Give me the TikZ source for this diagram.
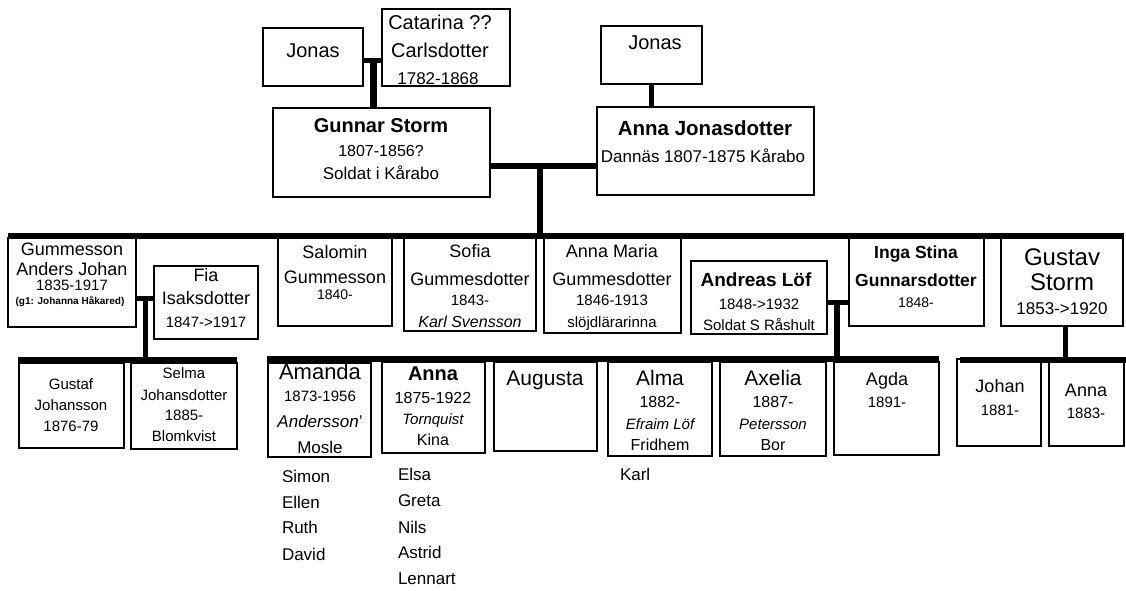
\documentclass[tikz,border=0pt]{standalone}
\usepackage{fontspec}
\setmainfont{Liberation Sans}
\usetikzlibrary{fit}
\newcommand\fsz[1]{\fontsize{#1}{#1}\selectfont}
\tikzset{
 box/.style={draw, line width=1.3pt, inner sep=0pt, outer sep=0pt, rectangle},
 conn/.style={line width=5pt},
 bar/.style={line width=6.5pt},
 tx/.style={anchor=base, inner sep=0pt, outer sep=0pt},
 lst/.style={anchor=base west, inner sep=0pt, outer sep=0pt}
}
\newcommand\pbox[3]{\node[box, fit={#2 #3}] (#1) {};}
\newcommand\ttx[4]{\node[tx] at (#1,#2) {\fsz{#3}#4};}
\newcommand\ltx[3]{\node[lst] at (#1,#2) {\fsz{17}#3};}
\begin{document}
\begin{tikzpicture}[x=1pt,y=-1pt]
\fill[white] (0,0) rectangle (1126,590);
\useasboundingbox (0,0) rectangle (1126,590);
% ---------- boxes ----------
\pbox{jonasA}{(263,28)}{(363,86)}
\pbox{catarina}{(382,9)}{(510,86)}
\draw[line width=2.5pt] (catarina.north west) -- (catarina.north east);
\pbox{gunnar}{(273,108)}{(490,197)}
\pbox{jonasB}{(601,26)}{(702,84)}
\pbox{annaJ}{(597,107)}{(814,195)}
\pbox{gummesson}{(8,238)}{(136,327)}
\pbox{fia}{(154,266)}{(258,339)}
\pbox{salomin}{(278,238)}{(392,326)}
\pbox{sofia}{(404,238)}{(536,331)}
\pbox{annaM}{(544,238)}{(681,333)}
\pbox{andreas}{(691,261)}{(827,334)}
\pbox{inga}{(849,238)}{(984,326)}
\pbox{gustav}{(1001,238)}{(1123,326)}
\pbox{gustaf}{(19,363)}{(124,448)}
\pbox{selma}{(131,363)}{(237,449)}
\pbox{amanda}{(268,363)}{(371,457)}
\pbox{annaT}{(382,362)}{(485,453)}
\pbox{augusta}{(494,362)}{(597,451)}
\pbox{alma}{(608,362)}{(712,456)}
\pbox{axelia}{(720,362)}{(826,456)}
\pbox{agda}{(834,362)}{(939,455)}
\pbox{johan}{(957,359)}{(1041,446)}
\pbox{annaG}{(1049,362)}{(1124,446)}
% ---------- connectors ----------
\coordinate (m1) at (373,60);
\draw[conn] (jonasA.east |- m1) -- (catarina.west |- m1);
\draw[conn, line width=7pt] (m1) -- (m1 |- gunnar.north);
\draw[conn] (jonasB.south) -- (jonasB.south |- annaJ.north);
\coordinate (m2) at (540,166);
\draw[conn, line width=6pt] (gunnar.east |- m2) -- (annaJ.west |- m2);
\coordinate (sb1) at (8,236);
\coordinate (sb2) at (1124,236);
\draw[conn, line width=6pt] (m2) -- (m2 |- sb1);
\draw[bar] (sb1) -- (sb2);
\coordinate (m3) at (145,298);
\coordinate (cb1) at (18,360);
\coordinate (cb2) at (237,360);
\draw[conn] (gummesson.east |- m3) -- (fia.west |- m3);
\draw[conn] (m3) -- (m3 |- cb1);
\draw[bar] (cb1) -- (cb2);
\coordinate (m4) at (837,302);
\coordinate (cb3) at (267,359);
\coordinate (cb4) at (939,359);
\draw[conn] (andreas.east |- m4) -- (inga.west |- m4);
\draw[conn, line width=6pt] (m4) -- (m4 |- cb3);
\draw[bar] (cb3) -- (cb4);
\coordinate (m5) at (1065,360);
\coordinate (cb5) at (960,360);
\coordinate (cb6) at (1126,360);
\draw[conn] (gustav.south -| m5) -- (m5);
\draw[bar] (cb5) -- (cb6);
% ---------- texts ----------
\ttx{313}{57}{20}{Jonas}
\ttx{440}{29}{20}{Catarina ??}
\ttx{440}{57}{20}{Carlsdotter}
\ttx{438}{84}{17}{1782-1868}
\ttx{381}{132}{20}{\bfseries Gunnar Storm}
\ttx{381}{156}{16}{1807-1856?}
\ttx{381}{179}{17}{Soldat i Kårabo}
\ttx{655}{49}{20}{Jonas}
\ttx{705}{135}{20.5}{\bfseries Anna Jonasdotter}
\ttx{703}{162}{17}{Dannäs 1807-1875 Kårabo}
% row 2
\ttx{72}{255}{18}{Gummesson}
\ttx{72}{275}{18}{Anders Johan}
\ttx{72}{290}{15}{1835-1917}
\ttx{70}{304}{10}{\bfseries (g1: Johanna Håkared)}
\ttx{206}{281}{18}{Fia}
\ttx{206}{304}{18}{Isaksdotter}
\ttx{206}{327}{15}{1847->1917}
\ttx{335}{258}{18}{Salomin}
\ttx{335}{283}{18}{Gummesson}
\ttx{335}{299}{14}{1840-}
\ttx{470}{257}{18}{Sofia}
\ttx{470}{285}{18}{Gummesdotter}
\ttx{470}{305}{15}{1843-}
\ttx{470}{327}{16}{\itshape Karl Svensson}
\ttx{612}{257}{18}{Anna Maria}
\ttx{612}{285}{18}{Gummesdotter}
\ttx{612}{305}{15}{1846-1913}
\ttx{612}{327}{15}{slöjdlärarinna}
\ttx{756}{286}{19}{\bfseries Andreas Löf}
\ttx{759}{309}{15}{1848->1932}
\ttx{759}{330}{15}{Soldat S Råshult}
\ttx{916}{258}{17.5}{\bfseries Inga Stina}
\ttx{916}{286}{17.5}{\bfseries Gunnarsdotter}
\ttx{916}{307}{14}{1848-}
\ttx{1062}{265}{24}{Gustav}
\ttx{1062}{290}{24}{Storm}
\ttx{1062}{314}{17}{1853->1920}
% row 3
\ttx{71}{389}{15}{Gustaf}
\ttx{71}{410}{15}{Johansson}
\ttx{71}{431}{15}{1876-79}
\ttx{184}{378}{15}{Selma}
\ttx{184}{400}{15}{Johansdotter}
\ttx{184}{420}{15}{1885-}
\ttx{184}{441}{15}{Blomkvist}
\ttx{320}{379}{22}{Amanda}
\ttx{320}{401}{15}{1873-1956}
\ttx{320}{427}{17}{{\itshape Andersson}'}
\ttx{320}{453}{17}{Mosle}
\ttx{433}{380}{20}{\bfseries Anna}
\ttx{433}{403}{16}{1875-1922}
\ttx{433}{424}{15}{\itshape Tornquist}
\ttx{433}{445}{16}{Kina}
\ttx{545}{385}{21}{Augusta}
\ttx{660}{385}{21}{Alma}
\ttx{660}{407}{16}{1882-}
\ttx{660}{429}{15}{\itshape Efraim Löf}
\ttx{660}{450}{16}{Fridhem}
\ttx{773}{385}{21}{Axelia}
\ttx{773}{407}{16}{1887-}
\ttx{773}{429}{15}{\itshape Petersson}
\ttx{773}{450}{16}{Bor}
\ttx{887}{385}{18}{Agda}
\ttx{887}{407}{15}{1891-}
\ttx{1000}{392}{18}{Johan}
\ttx{1000}{415}{15}{1881-}
\ttx{1086}{396}{18}{Anna}
\ttx{1086}{418}{15}{1883-}
% lists
\ltx{282}{482}{Simon}
\ltx{282}{508}{Ellen}
\ltx{282}{533}{Ruth}
\ltx{282}{560}{David}
\ltx{398}{480}{Elsa}
\ltx{398}{506}{Greta}
\ltx{398}{533}{Nils}
\ltx{398}{558}{Astrid}
\ltx{398}{584}{Lennart}
\ltx{620}{480}{Karl}
\end{tikzpicture}
\end{document}
